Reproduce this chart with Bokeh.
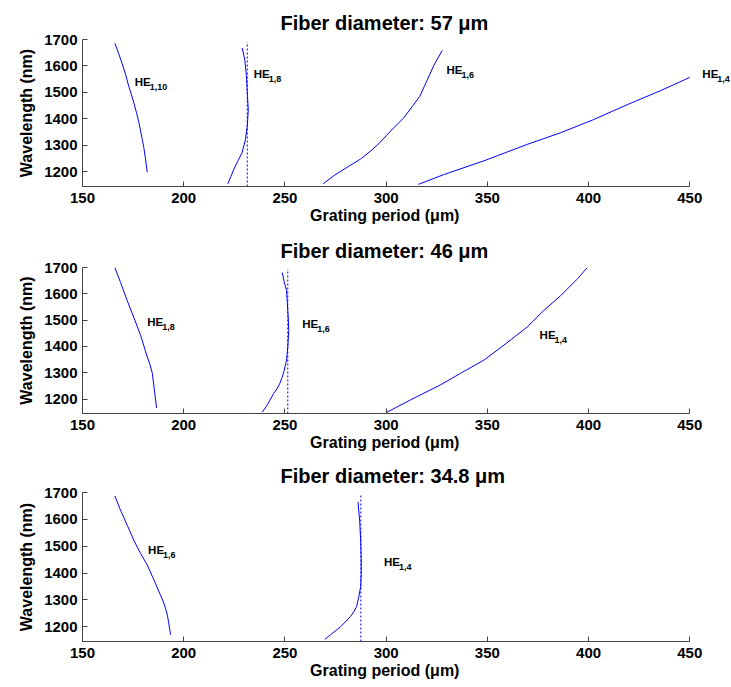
from bokeh.plotting import figure
from bokeh.layouts import column
from bokeh.models import Label, FixedTicker
from bokeh.embed import file_html
from bokeh.resources import INLINE

# ---------------- data ----------------
titles = ["Fiber diameter: 57 \u03bcm", "Fiber diameter: 46 \u03bcm", "Fiber diameter: 34.8 \u03bcm"]
x_ticks = [150, 200, 250, 300, 350, 400, 450]
y_ticks = [1200, 1300, 1400, 1500, 1600, 1700]

# Panel 1 (57 um)
p1_he110_x = [166.0, 167.8, 169.6, 171.4, 172.9, 174.2, 175.5, 176.7, 177.8, 178.7, 179.5, 180.3, 181.2, 182.0]
p1_he110_y = [1686, 1648, 1609, 1565, 1522, 1491, 1457, 1423, 1389, 1354, 1323, 1292, 1245, 1199]
p1_he18_x = [221.8, 223.3, 224.8, 226.9, 228.9, 230.5, 231.4, 231.9, 231.5, 231.0, 230.2, 228.9]
p1_he18_y = [1155, 1183, 1211, 1243, 1274, 1323, 1373, 1435, 1485, 1559, 1622, 1668]
p1_he16_x = [268.9, 274.2, 280.8, 287.4, 293.0, 296.8, 300.2, 303.8, 308.7, 312.9, 316.6, 320.3, 323.6, 327.7]
p1_he16_y = [1155, 1186, 1218, 1249, 1283, 1310, 1338, 1367, 1404, 1447, 1485, 1547, 1603, 1659]
p1_he14_x = [315.9, 328.5, 348.3, 369.7, 386.2, 402.6, 419.1, 435.6, 450.0]
p1_he14_y = [1153, 1190, 1242, 1304, 1348, 1398, 1454, 1507, 1557]
p1_dash_x = 231.4
p1_dash_top = 1690

# Panel 2 (46 um)
p2_he18_x = [166.0, 168.8, 172.1, 175.3, 178.7, 181.0, 182.0, 183.4, 184.5, 185.5, 186.6]
p2_he18_y = [1700, 1643, 1574, 1511, 1442, 1385, 1360, 1330, 1298, 1235, 1166]
p2_he16_x = [238.8, 241.3, 244.5, 246.2, 247.5, 248.6, 249.5, 250.8, 251.4, 251.9, 251.7, 251.4, 250.8, 249.5, 248.7]
p2_he16_y = [1150, 1178, 1222, 1240, 1260, 1282, 1304, 1348, 1398, 1461, 1500, 1537, 1612, 1650, 1681]
p2_he14_x = [300.2, 312.1, 326.9, 336.8, 348.3, 358.2, 369.7, 377.9, 386.2, 394.4, 399.4]
p2_he14_y = [1149, 1197, 1254, 1298, 1348, 1405, 1474, 1537, 1593, 1656, 1700]
p2_dash_x = 251.4
p2_dash_top = 1694

# Panel 3 (34.8 um)
p3_he16_x = [166.0, 168.8, 172.1, 175.3, 178.7, 182.0, 185.3, 188.5, 190.0, 191.0, 192.0, 192.6, 193.1, 193.5]
p3_he16_y = [1687, 1634, 1578, 1523, 1473, 1430, 1374, 1318, 1292, 1269, 1240, 1213, 1190, 1170]
p3_he14_x = [269.7, 272.5, 277.5, 282.4, 284.2, 285.4, 286.5, 287.4, 287.7, 287.7, 287.4, 286.9, 286.1]
p3_he14_y = [1153, 1170, 1200, 1238, 1258, 1275, 1312, 1349, 1399, 1448, 1523, 1597, 1665]
p3_dash_x = 287.5
p3_dash_top = 1694

# Mode labels: (subscript, x, y)
p1_labels = [("1,10", 175.8, 1541), ("1,8", 234.6, 1569), ("1,6", 329.8, 1584), ("1,4", 456.2, 1569)]
p2_labels = [("1,8", 182.0, 1492), ("1,6", 258.5, 1486), ("1,4", 375.8, 1442)]
p3_labels = [("1,6", 182.4, 1486), ("1,4", 298.9, 1442)]

Y_MIN, Y_MAX = 1145, 1700
X_MIN, X_MAX = 150, 450
X_VIEW_MAX = 470.6   # extra room on the right so the HE1,4 label is not clipped

FONT = "Liberation Sans"
LINE = "#0000ff"
NBSP = "\u00a0"


def make_panel(title, curves, dash_x, dash_top, labels, height, top, bottom):
    p = figure(width=731, height=height, output_backend="svg", toolbar_location=None,
               x_range=(X_MIN, X_VIEW_MAX), y_range=(Y_MIN, Y_MAX),
               min_border_left=82, min_border_right=0,
               min_border_top=top, min_border_bottom=bottom)
    p.title.text = title
    p.title.align = "left"
    p.title.offset = 198
    p.title.text_font = FONT
    p.title.text_font_size = "20px"
    p.title.text_font_style = "bold"
    p.title.text_color = "black"
    p.title.standoff = 12
    p.outline_line_color = None
    p.xgrid.visible = False
    p.ygrid.visible = False
    p.background_fill_color = "white"
    p.border_fill_color = "white"

    for xs, ys in curves:
        p.line(xs, ys, line_color=LINE, line_width=1)
    p.segment(x0=[dash_x], y0=[Y_MIN], x1=[dash_x], y1=[dash_top],
              line_color=LINE, line_width=1, line_dash="2 2")

    for ax in (p.xaxis[0], p.yaxis[0]):
        ax.axis_line_color = "#444444"
        ax.major_tick_line_color = "#444444"
        ax.major_tick_in = 5
        ax.major_tick_out = 0
        ax.minor_tick_line_color = None
        ax.major_label_text_font = FONT
        ax.major_label_text_font_style = "bold"
        ax.major_label_text_font_size = "15px"
        ax.major_label_text_color = "black"
        ax.axis_label_text_font = FONT
        ax.axis_label_text_font_style = "bold"
        ax.axis_label_text_font_size = "16px"
        ax.axis_label_text_color = "black"
    p.xaxis.bounds = (X_MIN, X_MAX)
    p.xaxis.ticker = FixedTicker(ticks=x_ticks)
    p.yaxis.ticker = FixedTicker(ticks=y_ticks)
    # trailing no-break spaces re-centre the label under the 150-450 span
    p.xaxis.axis_label = "Grating period (\u03bcm)" + NBSP * 10
    p.yaxis.axis_label = "Wavelength (nm)"
    p.xaxis.major_label_standoff = 6
    p.xaxis.axis_label_standoff = 1
    p.yaxis.major_label_standoff = 5
    p.yaxis.axis_label_standoff = 6

    for sub, lx, ly in labels:
        p.add_layout(Label(x=lx, y=ly, text="HE", text_font=FONT, text_font_style="bold",
                           text_font_size="11.5px", text_baseline="middle", text_align="left",
                           text_color="black"))
        p.add_layout(Label(x=lx, y=ly, x_offset=15, y_offset=-5, text=sub, text_font=FONT,
                           text_font_style="bold", text_font_size="9px",
                           text_baseline="middle", text_align="left", text_color="black"))
    return p


p1 = make_panel(titles[0],
                [(p1_he110_x, p1_he110_y), (p1_he18_x, p1_he18_y),
                 (p1_he16_x, p1_he16_y), (p1_he14_x, p1_he14_y)],
                p1_dash_x, p1_dash_top, p1_labels, 226, 39, 38)
p2 = make_panel(titles[1],
                [(p2_he18_x, p2_he18_y), (p2_he16_x, p2_he16_y), (p2_he14_x, p2_he14_y)],
                p2_dash_x, p2_dash_top, p2_labels, 227, 41, 39)
p3 = make_panel(titles[2],
                [(p3_he16_x, p3_he16_y), (p3_he14_x, p3_he14_y)],
                p3_dash_x, p3_dash_top, p3_labels, 234, 39, 46)

layout = column(p1, p2, p3, spacing=0)
open("out.html", "w").write(file_html(layout, INLINE))
